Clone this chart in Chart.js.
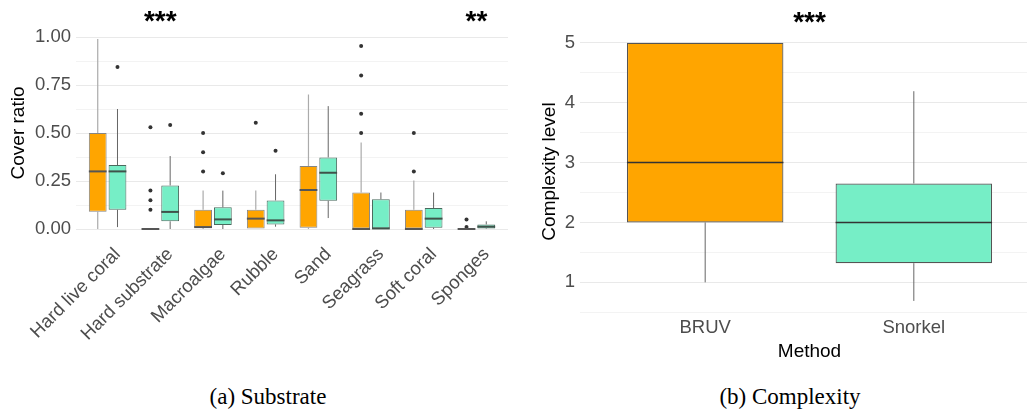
<!DOCTYPE html>
<html>
<head>
<meta charset="utf-8">
<script src="https://cdn.jsdelivr.net/npm/chart.js@4"></script>
<style>
  html, body { margin: 0; padding: 0; background: #fff; overflow: hidden; }
  body { width: 1027px; height: 412px; position: relative; }
  #wrapA { position: absolute; left: 0; top: 0; width: 520px; height: 372px; }
  #wrapB { position: absolute; left: 520px; top: 0; width: 525px; height: 372px; }
  .cap { position: absolute; top: 384px; font-family: "Liberation Serif", "Times New Roman", serif;
         font-size: 23px; color: #000; transform: translateX(-50%); white-space: nowrap; }
</style>
</head>
<body>
<div id="wrapA"><canvas id="substrate"></canvas></div>
<div id="wrapB"><canvas id="complexity"></canvas></div>
<div class="cap" style="left:268px">(a) Substrate</div>
<div class="cap" style="left:790px">(b) Complexity</div>
<script>
// ---- (a) Substrate: cover ratio per substrate, BRUV vs Snorkel ----
const substrates = ["Hard live coral", "Hard substrate", "Macroalgae", "Rubble", "Sand", "Seagrass", "Soft coral", "Sponges"];

const bruvLow  = [0, 0, 0, 0, 0, 0, 0, 0];
const bruvQ1   = [0.09, 0, 0.007, 0, 0.007, 0, 0, 0];
const bruvMed  = [0.30, 0, 0.01, 0.054, 0.203, 0, 0, 0];
const bruvQ3   = [0.50, 0, 0.10, 0.10, 0.328, 0.19, 0.10, 0];
const bruvHigh = [0.99, 0, 0.20, 0.20, 0.70, 0.45, 0.253, 0];
const bruvOut  = [[], [0.53, 0.20, 0.15, 0.10], [0.50, 0.40, 0.30], [0.553], [], [0.953, 0.80, 0.60, 0.50], [0.50, 0.30], [0.05, 0.01]];

const snorkLow  = [0.01, 0, 0, 0.012, 0.057, 0, 0, 0];
const snorkQ1   = [0.10, 0.04, 0.021, 0.024, 0.147, 0.003, 0.007, 0.003];
const snorkMed  = [0.30, 0.089, 0.05, 0.045, 0.293, 0.003, 0.054, 0.012];
const snorkQ3   = [0.333, 0.227, 0.113, 0.149, 0.373, 0.155, 0.109, 0.024];
const snorkHigh = [0.625, 0.38, 0.20, 0.285, 0.64, 0.19, 0.19, 0.04];
const snorkOut  = [[0.844], [0.542], [0.29], [0.408], [], [], [], []];

const coverTicks = [0, 0.125, 0.25, 0.375, 0.5, 0.625, 0.75, 0.875, 1];
const sigAPos  = [2, 8];
const sigAText = ["***", "**"];

// ---- (b) Complexity per method ----
const methods = ["BRUV", "Snorkel"];
const cxLow  = [1, 0.69];
const cxQ1   = [2, 1.32];
const cxMed  = [3, 2];
const cxQ3   = [5, 2.65];
const cxHigh = [5, 4.19];
const cxTicks = [0.5, 1, 1.5, 2, 2.5, 3, 3.5, 4, 4.5, 5];
const sigBPos  = [1.5];
const sigBText = ["***"];

const ORANGE = "#FFA500";
const AQUA = "#76EEC6";
const sans = "'Liberation Sans', Arial, sans-serif";
const dodgeWidth = 0.75;

// whiskers under the boxes, medians on top
const boxPlot = {
  id: "boxPlot",
  beforeDatasetsDraw(chart, args, opts) {
    const ctx = chart.ctx, y = chart.scales.y;
    opts.series.forEach(s => {
      const meta = chart.getDatasetMeta(s.dataset);
      meta.data.forEach((bar, i) => {
        ctx.save();
        ctx.strokeStyle = s.whisker;
        ctx.lineWidth = s.whiskerWidth;
        ctx.beginPath();
        ctx.moveTo(bar.x, y.getPixelForValue(s.q3[i]));
        ctx.lineTo(bar.x, y.getPixelForValue(s.high[i]));
        ctx.moveTo(bar.x, y.getPixelForValue(s.q1[i]));
        ctx.lineTo(bar.x, y.getPixelForValue(s.low[i]));
        ctx.stroke();
        ctx.restore();
      });
    });
  },
  afterDatasetsDraw(chart, args, opts) {
    const ctx = chart.ctx, y = chart.scales.y;
    opts.series.forEach(s => {
      const meta = chart.getDatasetMeta(s.dataset);
      meta.data.forEach((bar, i) => {
        const py = y.getPixelForValue(s.med[i]);
        ctx.save();
        ctx.strokeStyle = s.median;
        ctx.lineWidth = s.medianWidth;
        ctx.beginPath();
        ctx.moveTo(bar.x - bar.width / 2, py);
        ctx.lineTo(bar.x + bar.width / 2, py);
        ctx.stroke();
        ctx.restore();
      });
    });
    // significance stars
    if (opts.sig) {
      ctx.save();
      ctx.font = "bold 28px " + sans;
      ctx.fillStyle = "#000";
      ctx.textAlign = "center";
      ctx.textBaseline = "alphabetic";
      opts.sig.pos.forEach((p, k) => {
        ctx.fillText(opts.sig.text[k], chart.scales.x.getPixelForValue(p), opts.sig.baseline);
      });
      ctx.restore();
    }
  }
};

function outlierPoints(outs, shift) {
  const pts = [];
  outs.forEach((list, i) => list.forEach(v => pts.push({ x: i + 1 + shift, y: v })));
  return pts;
}
function toPoints(q1, q3) {
  return q1.map((v, i) => ({ x: i + 1, y: [v, q3[i]] }));
}

const tickFont = { family: sans, size: 18.5 };
const titleFont = { family: sans, size: 19 };

new Chart(document.getElementById("substrate"), {
  type: "bar",
  data: {
    datasets: [
      { label: "BRUV", data: toPoints(bruvQ1, bruvQ3), backgroundColor: ORANGE, borderColor: "#858585",
        borderWidth: 1, borderSkipped: false, categoryPercentage: dodgeWidth, barPercentage: 0.9 },
      { label: "Snorkel", data: toPoints(snorkQ1, snorkQ3), backgroundColor: AQUA, borderColor: "#4a6a5e",
        borderWidth: 1, borderSkipped: false, categoryPercentage: dodgeWidth, barPercentage: 0.9 },
      { type: "scatter", data: outlierPoints(bruvOut, -dodgeWidth / 4), pointRadius: 2,
        backgroundColor: "#333", borderWidth: 0 },
      { type: "scatter", data: outlierPoints(snorkOut, dodgeWidth / 4), pointRadius: 2,
        backgroundColor: "#333", borderWidth: 0 }
    ]
  },
  options: {
    responsive: true,
    maintainAspectRatio: false,
    animation: false,
    layout: { padding: { left: 0, right: 12, top: 27.4, bottom: 0 } },
    plugins: {
      legend: { display: false },
      tooltip: { enabled: false },
      boxPlot: {
        series: [
          { dataset: 0, low: bruvLow, q1: bruvQ1, med: bruvMed, q3: bruvQ3, high: bruvHigh,
            whisker: "#ababab", whiskerWidth: 1.2, median: "#555", medianWidth: 2 },
          { dataset: 1, low: snorkLow, q1: snorkQ1, med: snorkMed, q3: snorkQ3, high: snorkHigh,
            whisker: "#666", whiskerWidth: 1, median: "#3f524a", medianWidth: 2 }
        ],
        sig: { pos: sigAPos, text: sigAText, baseline: 30 }
      }
    },
    scales: {
      x: {
        type: "linear", min: 0.4, max: 8.6, offset: false,
        grid: { display: false, offset: false, drawTicks: false },
        border: { display: false },
        afterBuildTicks: s => { s.ticks = substrates.map((c, i) => ({ value: i + 1 })); },
        afterFit: s => { s.height = 133.4; },
        ticks: {
          autoSkip: false, minRotation: 45, maxRotation: 45, padding: 5, labelOffset: 10,
          color: "#4d4d4d", font: tickFont,
          callback: v => substrates[v - 1]
        }
      },
      y: {
        min: -0.05, max: 1.05,
        grid: {
          drawTicks: false,
          color: c => (c.tick && Math.abs(c.tick.value * 4 - Math.round(c.tick.value * 4)) < 1e-9) ? "#e9e9e9" : "#f3f3f3",
          lineWidth: 1
        },
        border: { display: false },
        afterBuildTicks: s => { s.ticks = coverTicks.map(v => ({ value: v })); },
        afterFit: s => { s.width = 76; },
        title: { display: true, text: "Cover ratio", color: "#000", font: titleFont, padding: { top: 7 } },
        ticks: {
          padding: 5, color: "#4d4d4d", font: tickFont,
          callback: v => (Math.abs(v * 4 - Math.round(v * 4)) < 1e-9) ? v.toFixed(2) : ""
        }
      }
    }
  },
  plugins: [boxPlot]
});

new Chart(document.getElementById("complexity"), {
  type: "bar",
  data: {
    datasets: [
      { label: "Complexity", data: toPoints(cxQ1, cxQ3), backgroundColor: [ORANGE, AQUA], borderColor: "#555",
        borderWidth: 1.2, borderSkipped: false, categoryPercentage: dodgeWidth, barPercentage: 1 }
    ]
  },
  options: {
    responsive: true,
    maintainAspectRatio: false,
    animation: false,
    layout: { padding: { left: 0, right: 6, top: 29.8, bottom: 0 } },
    plugins: {
      legend: { display: false },
      tooltip: { enabled: false },
      boxPlot: {
        series: [
          { dataset: 0, low: cxLow, q1: cxQ1, med: cxMed, q3: cxQ3, high: cxHigh,
            whisker: "#666", whiskerWidth: 1, median: "#333", medianWidth: 1.6 }
        ],
        sig: { pos: sigBPos, text: sigBText, baseline: 31 }
      }
    },
    scales: {
      x: {
        type: "linear", min: 0.4, max: 2.6, offset: false,
        grid: { display: false, offset: false, drawTicks: false },
        border: { display: false },
        afterBuildTicks: s => { s.ticks = methods.map((m, i) => ({ value: i + 1 })); },
        afterFit: s => { s.height = 58.8; },
        title: { display: true, text: "Method", color: "#000", font: titleFont, padding: { top: 0, bottom: 8.6 } },
        ticks: { padding: 4, color: "#4d4d4d", font: tickFont, callback: v => methods[v - 1] }
      },
      y: {
        min: 0.485, max: 5.215,
        grid: {
          drawTicks: false,
          color: c => (c.tick && Number.isInteger(c.tick.value)) ? "#e9e9e9" : "#f3f3f3",
          lineWidth: 1
        },
        border: { display: false },
        afterBuildTicks: s => { s.ticks = cxTicks.map(v => ({ value: v })); },
        afterFit: s => { s.width = 60; },
        title: { display: true, text: "Complexity level", color: "#000", font: titleFont, padding: { top: 18.6 } },
        ticks: { padding: 5, color: "#4d4d4d", font: tickFont, callback: v => Number.isInteger(v) ? String(v) : "" }
      }
    }
  },
  plugins: [boxPlot]
});
</script>
</body>
</html>
